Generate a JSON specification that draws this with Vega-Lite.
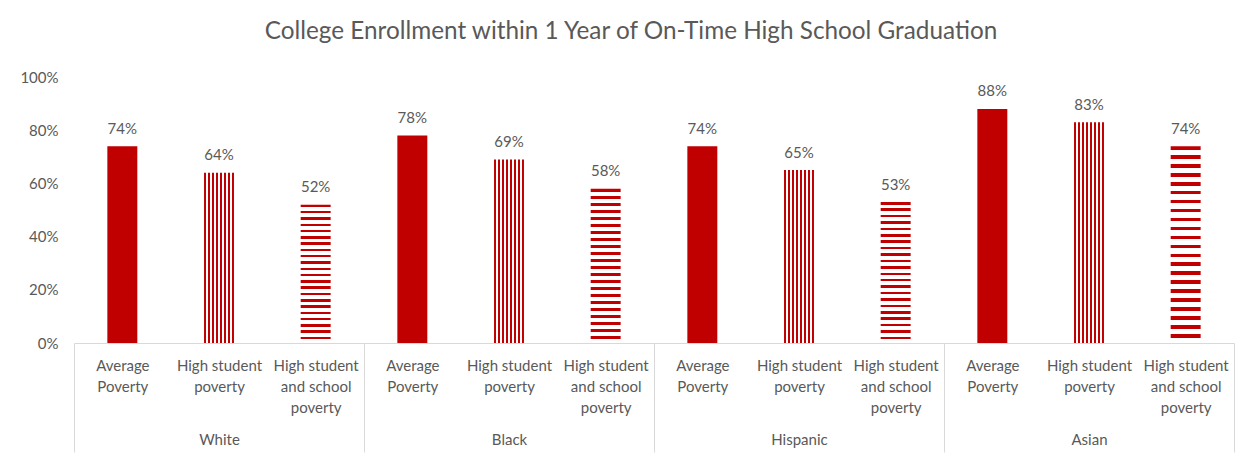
{
  "$schema": "https://vega.github.io/schema/vega-lite/v6.json",
  "autosize": {"type": "none"},
  "padding": {"left": 74, "top": 77, "right": 20, "bottom": 114},
  "width": 1160,
  "height": 266,
  "background": "white",
  "config": {
    "font": "Lato",
    "view": {"stroke": null},
    "axis": {"labelFont": "Lato", "labelColor": "#595959", "grid": false}
  },
  "title": {
    "text": "College Enrollment within 1 Year of On-Time High School Graduation",
    "font": "Lato",
    "fontSize": 24.3,
    "fontWeight": "normal",
    "color": "#595959",
    "anchor": "middle",
    "dx": -23,
    "baseline": "alphabetic",
    "offset": 7
  },
  "data": {
    "values": [
      {"group": "White", "type": "Average Poverty", "key": "White|Average Poverty", "value": 0.74},
      {"group": "White", "type": "High student poverty", "key": "White|High student poverty", "value": 0.64},
      {"group": "White", "type": "High student and school poverty", "key": "White|High student and school poverty", "value": 0.52},
      {"group": "Black", "type": "Average Poverty", "key": "Black|Average Poverty", "value": 0.78},
      {"group": "Black", "type": "High student poverty", "key": "Black|High student poverty", "value": 0.69},
      {"group": "Black", "type": "High student and school poverty", "key": "Black|High student and school poverty", "value": 0.58},
      {"group": "Hispanic", "type": "Average Poverty", "key": "Hispanic|Average Poverty", "value": 0.74},
      {"group": "Hispanic", "type": "High student poverty", "key": "Hispanic|High student poverty", "value": 0.65},
      {"group": "Hispanic", "type": "High student and school poverty", "key": "Hispanic|High student and school poverty", "value": 0.53},
      {"group": "Asian", "type": "Average Poverty", "key": "Asian|Average Poverty", "value": 0.88},
      {"group": "Asian", "type": "High student poverty", "key": "Asian|High student poverty", "value": 0.83},
      {"group": "Asian", "type": "High student and school poverty", "key": "Asian|High student and school poverty", "value": 0.74}
    ]
  },
  "resolve": {"scale": {"x": "independent"}, "axis": {"x": "independent"}},
  "encoding": {
    "y": {
      "field": "value",
      "type": "quantitative",
      "scale": {"domain": [0, 1]},
      "axis": {
        "title": null,
        "values": [0, 0.2, 0.4, 0.6, 0.8, 1],
        "format": ".0%",
        "domain": false,
        "ticks": false,
        "labelFontSize": 15,
        "labelPadding": 16
      }
    }
  },
  "layer": [
    {
      "mark": {"type": "bar"},
      "encoding": {
        "x": {
          "field": "group",
          "type": "nominal",
          "sort": null,
          "scale": {"paddingInner": 0, "paddingOuter": 0},
          "axis": {
            "orient": "bottom",
            "title": null,
            "labelAngle": 0,
            "domainColor": "#D9D9D9",
            "domainWidth": 1,
            "tickBand": "extent",
            "tickColor": "#D9D9D9",
            "tickSize": 109,
            "labelFontSize": 15,
            "labelPadding": -20,
            "labelBaseline": "top"
          }
        },
        "xOffset": {
          "field": "type",
          "type": "nominal",
          "sort": null,
          "scale": {"paddingInner": 0.69, "paddingOuter": 0.345}
        },
        "color": {
          "condition": [
            {
              "test": "datum.type === 'High student poverty'",
              "value": {
                "gradient": "linear",
                "x1": 0, "y1": 0, "x2": 1, "y2": 0,
                "stops": [
                  {"offset": 0, "color": "#C00000"}, {"offset": 0.05, "color": "#C00000"},
                  {"offset": 0.05, "color": "#FFFFFF"}, {"offset": 0.1357, "color": "#FFFFFF"},
                  {"offset": 0.1357, "color": "#C00000"}, {"offset": 0.1857, "color": "#C00000"},
                  {"offset": 0.1857, "color": "#FFFFFF"}, {"offset": 0.2714, "color": "#FFFFFF"},
                  {"offset": 0.2714, "color": "#C00000"}, {"offset": 0.3214, "color": "#C00000"},
                  {"offset": 0.3214, "color": "#FFFFFF"}, {"offset": 0.4071, "color": "#FFFFFF"},
                  {"offset": 0.4071, "color": "#C00000"}, {"offset": 0.4571, "color": "#C00000"},
                  {"offset": 0.4571, "color": "#FFFFFF"}, {"offset": 0.5429, "color": "#FFFFFF"},
                  {"offset": 0.5429, "color": "#C00000"}, {"offset": 0.5929, "color": "#C00000"},
                  {"offset": 0.5929, "color": "#FFFFFF"}, {"offset": 0.6786, "color": "#FFFFFF"},
                  {"offset": 0.6786, "color": "#C00000"}, {"offset": 0.7286, "color": "#C00000"},
                  {"offset": 0.7286, "color": "#FFFFFF"}, {"offset": 0.8143, "color": "#FFFFFF"},
                  {"offset": 0.8143, "color": "#C00000"}, {"offset": 0.8643, "color": "#C00000"},
                  {"offset": 0.8643, "color": "#FFFFFF"}, {"offset": 0.95, "color": "#FFFFFF"},
                  {"offset": 0.95, "color": "#C00000"}, {"offset": 1, "color": "#C00000"}
                ]
              }
            },
            {
              "test": "datum.type === 'High student and school poverty'",
              "value": {
                "gradient": "linear",
                "x1": 0, "y1": 0, "x2": 0, "y2": 1,
                "stops": [
                  {"offset": 0, "color": "#C00000"}, {"offset": 0.0182, "color": "#C00000"},
                  {"offset": 0.0182, "color": "#FFFFFF"}, {"offset": 0.0455, "color": "#FFFFFF"},
                  {"offset": 0.0455, "color": "#C00000"}, {"offset": 0.0637, "color": "#C00000"},
                  {"offset": 0.0637, "color": "#FFFFFF"}, {"offset": 0.0909, "color": "#FFFFFF"},
                  {"offset": 0.0909, "color": "#C00000"}, {"offset": 0.1091, "color": "#C00000"},
                  {"offset": 0.1091, "color": "#FFFFFF"}, {"offset": 0.1364, "color": "#FFFFFF"},
                  {"offset": 0.1364, "color": "#C00000"}, {"offset": 0.1546, "color": "#C00000"},
                  {"offset": 0.1546, "color": "#FFFFFF"}, {"offset": 0.1818, "color": "#FFFFFF"},
                  {"offset": 0.1818, "color": "#C00000"}, {"offset": 0.2, "color": "#C00000"},
                  {"offset": 0.2, "color": "#FFFFFF"}, {"offset": 0.2273, "color": "#FFFFFF"},
                  {"offset": 0.2273, "color": "#C00000"}, {"offset": 0.2455, "color": "#C00000"},
                  {"offset": 0.2455, "color": "#FFFFFF"}, {"offset": 0.2727, "color": "#FFFFFF"},
                  {"offset": 0.2727, "color": "#C00000"}, {"offset": 0.2909, "color": "#C00000"},
                  {"offset": 0.2909, "color": "#FFFFFF"}, {"offset": 0.3182, "color": "#FFFFFF"},
                  {"offset": 0.3182, "color": "#C00000"}, {"offset": 0.3364, "color": "#C00000"},
                  {"offset": 0.3364, "color": "#FFFFFF"}, {"offset": 0.3636, "color": "#FFFFFF"},
                  {"offset": 0.3636, "color": "#C00000"}, {"offset": 0.3818, "color": "#C00000"},
                  {"offset": 0.3818, "color": "#FFFFFF"}, {"offset": 0.4091, "color": "#FFFFFF"},
                  {"offset": 0.4091, "color": "#C00000"}, {"offset": 0.4273, "color": "#C00000"},
                  {"offset": 0.4273, "color": "#FFFFFF"}, {"offset": 0.4545, "color": "#FFFFFF"},
                  {"offset": 0.4545, "color": "#C00000"}, {"offset": 0.4727, "color": "#C00000"},
                  {"offset": 0.4727, "color": "#FFFFFF"}, {"offset": 0.5, "color": "#FFFFFF"},
                  {"offset": 0.5, "color": "#C00000"}, {"offset": 0.5182, "color": "#C00000"},
                  {"offset": 0.5182, "color": "#FFFFFF"}, {"offset": 0.5455, "color": "#FFFFFF"},
                  {"offset": 0.5455, "color": "#C00000"}, {"offset": 0.5637, "color": "#C00000"},
                  {"offset": 0.5637, "color": "#FFFFFF"}, {"offset": 0.5909, "color": "#FFFFFF"},
                  {"offset": 0.5909, "color": "#C00000"}, {"offset": 0.6091, "color": "#C00000"},
                  {"offset": 0.6091, "color": "#FFFFFF"}, {"offset": 0.6364, "color": "#FFFFFF"},
                  {"offset": 0.6364, "color": "#C00000"}, {"offset": 0.6546, "color": "#C00000"},
                  {"offset": 0.6546, "color": "#FFFFFF"}, {"offset": 0.6818, "color": "#FFFFFF"},
                  {"offset": 0.6818, "color": "#C00000"}, {"offset": 0.7, "color": "#C00000"},
                  {"offset": 0.7, "color": "#FFFFFF"}, {"offset": 0.7273, "color": "#FFFFFF"},
                  {"offset": 0.7273, "color": "#C00000"}, {"offset": 0.7455, "color": "#C00000"},
                  {"offset": 0.7455, "color": "#FFFFFF"}, {"offset": 0.7727, "color": "#FFFFFF"},
                  {"offset": 0.7727, "color": "#C00000"}, {"offset": 0.7909, "color": "#C00000"},
                  {"offset": 0.7909, "color": "#FFFFFF"}, {"offset": 0.8182, "color": "#FFFFFF"},
                  {"offset": 0.8182, "color": "#C00000"}, {"offset": 0.8364, "color": "#C00000"},
                  {"offset": 0.8364, "color": "#FFFFFF"}, {"offset": 0.8636, "color": "#FFFFFF"},
                  {"offset": 0.8636, "color": "#C00000"}, {"offset": 0.8818, "color": "#C00000"},
                  {"offset": 0.8818, "color": "#FFFFFF"}, {"offset": 0.9091, "color": "#FFFFFF"},
                  {"offset": 0.9091, "color": "#C00000"}, {"offset": 0.9273, "color": "#C00000"},
                  {"offset": 0.9273, "color": "#FFFFFF"}, {"offset": 0.9545, "color": "#FFFFFF"},
                  {"offset": 0.9545, "color": "#C00000"}, {"offset": 0.9727, "color": "#C00000"},
                  {"offset": 0.9727, "color": "#FFFFFF"}, {"offset": 1, "color": "#FFFFFF"}
                ]
              }
            }
          ],
          "value": "#C00000"
        }
      }
    },
    {
      "mark": {"type": "text", "baseline": "middle", "dy": -17.5, "fontSize": 15, "color": "#595959", "font": "Lato"},
      "encoding": {
        "x": {
          "field": "key",
          "type": "nominal",
          "sort": null,
          "scale": {"paddingInner": 0, "paddingOuter": 0},
          "axis": {
            "orient": "bottom",
            "title": null,
            "labelAngle": 0,
            "domain": false,
            "ticks": false,
            "labelFontSize": 15,
            "labelPadding": 15,
            "labelLineHeight": 21,
            "labelBaseline": "top",
            "labelOverlap": false,
            "labelBound": false,
            "labelLimit": 200,
            "labelExpr": "split(datum.label, '|')[1] === 'Average Poverty' ? ['Average', 'Poverty'] : split(datum.label, '|')[1] === 'High student poverty' ? ['High student', 'poverty'] : ['High student', 'and school', 'poverty']"
          }
        },
        "text": {"field": "value", "type": "quantitative", "format": ".0%"}
      }
    }
  ]
}
